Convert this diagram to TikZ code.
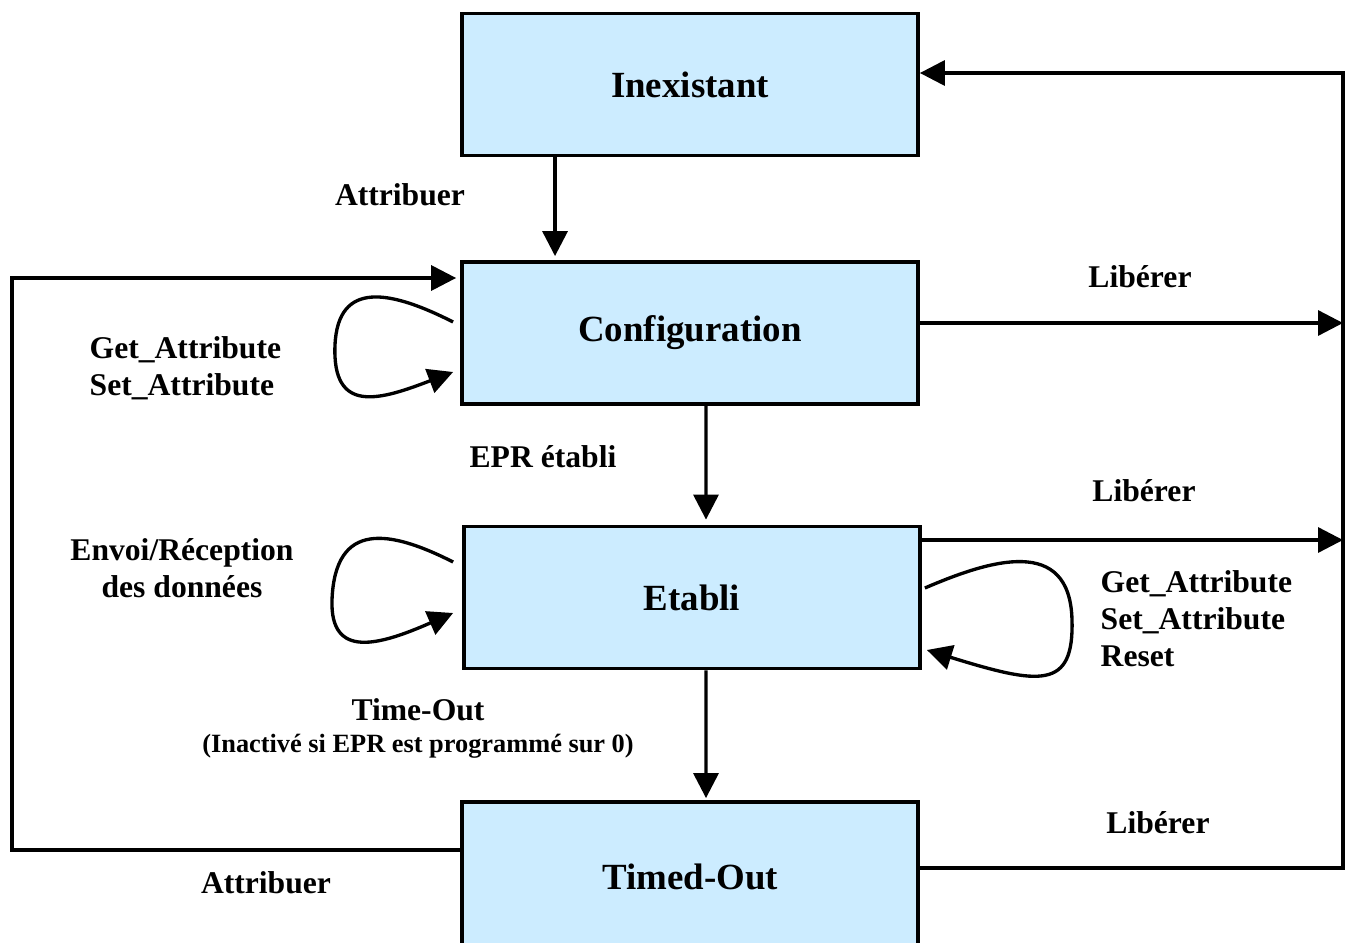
\documentclass[tikz,border=0pt]{standalone}
\usepackage{fontspec}
\setmainfont{Liberation Serif}
\usepackage{xcolor}
\usetikzlibrary{arrows.meta,positioning}
\definecolor{boxblue}{HTML}{CCECFF}

\begin{document}
\begin{tikzpicture}[x=0.02cm, y=-0.02cm, line width=1.9pt, >={Triangle[length=0.5cm,width=0.5cm]},
    main/.style = {draw, line width=2.2pt, fill=boxblue, minimum width=9.12cm, minimum height=2.84cm, font=\fontsize{21}{25}\selectfont\bfseries},
    lbl/.style = {font=\fontsize{18}{21}\selectfont\bfseries, inner sep=0pt}]
    \useasboundingbox (0,0) rectangle (1353,943);
    \node[main] (1) at (690,84.5) {Inexistant};
    \node[main] (2) at (690,333) {Configuration};
    \node[main] (3) at (692,597.5) {Etabli};
    \node[main, minimum height=3.0cm] (4) at (690,877) {Timed-Out};
    \coordinate (r1) at (1343,73);
    \coordinate (r2) at (1343,323);
    \coordinate (r3) at (1343,540);
    \coordinate (r4) at (1343,868);
    \coordinate (l2) at (12,278);
    \coordinate (l4) at (12,850);
    % transitions down the chain
    \draw[->] ([xshift=-2.7cm]1.south) -- ([xshift=-2.7cm,yshift=0.08cm]2.north);
    \draw[->] ([xshift=0.32cm]2.south) -- ([xshift=0.28cm,yshift=0.1cm]3.north);
    \draw[->] ([xshift=0.28cm]3.south) -- ([xshift=0.32cm,yshift=0.04cm]4.north);
    % liberer
    \draw[->] (4.east |- r4) -- (r4) -- (r1) -- (1.east |- r1);
    \draw[->] (2.east |- r2) -- (r2);
    \draw[->] (3.east |- r3) -- (r3);
    % attribuer depuis timed-out
    \draw[->] (4.west |- l4) -- (l4) -- (l2) -- ([xshift=-0.08cm]2.west |- l2);
    % boucles
    \draw[->] ([shift={(-0.14cm,0.22cm)}]2.west) .. controls (390,290) and (338,280) .. (335,345) .. controls (332,415) and (380,400) .. ([shift={(-0.14cm,-0.78cm)}]2.west);
    \draw[->] ([shift={(-0.18cm,0.71cm)}]3.west) .. controls (390,530) and (335,520) .. (332,600) .. controls (330,660) and (380,645) .. ([shift={(-0.18cm,-0.31cm)}]3.west);
    \draw[->] ([shift={(0.06cm,0.19cm)}]3.east) .. controls (990,560) and (1070,535) .. (1072,620) .. controls (1074,690) and (1040,685) .. ([shift={(0.1cm,-1.05cm)}]3.east);
    % labels
    \node[lbl] (a1) at (400,195) {Attribuer};
    \node[lbl] (lib1) at (1140,277) {Libérer};
    \node[lbl, anchor=west, align=left] (g1) at (88,368) {Get\_Attribute\\Set\_Attribute};
    \node[lbl] (epr) at (543,457) {EPR établi};
    \node[lbl] (lib2) at (1144,491) {Libérer};
    \node[lbl, align=center] (env) at (182,568) {Envoi/Réception\\des données};
    \node[lbl, anchor=west, align=left] (g2) at (1099,619) {Get\_Attribute\\Set\_Attribute\\Reset};
    \node[lbl] (tout) at (418,710) {Time-Out};
    \node[lbl, font=\fontsize{15}{18}\selectfont\bfseries] (tsub) at (418,746) {(Inactivé si EPR est programmé sur 0)};
    \node[lbl] (lib3) at (1158,823) {Libérer};
    \node[lbl] (a2) at (266,883) {Attribuer};
\end{tikzpicture}
\end{document}
